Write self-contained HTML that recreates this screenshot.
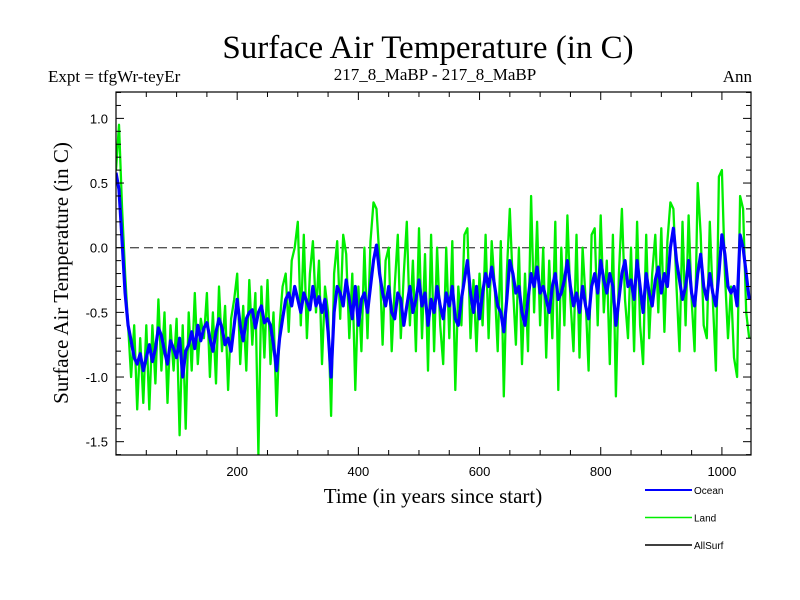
<!DOCTYPE html>
<html><head><meta charset="utf-8"><style>
body{margin:0;background:#fff;}
svg{display:block;}
.serif{font-family:"Liberation Serif",serif;}
.sans{font-family:"Liberation Sans",sans-serif;}
</style></head><body>
<svg id="chart" width="800" height="600" xmlns="http://www.w3.org/2000/svg">
<rect width="800" height="600" fill="#fff"/>
<text class="serif" x="428" y="58" font-size="33" text-anchor="middle">Surface Air Temperature (in C)</text>
<text class="serif" x="48" y="82" font-size="17">Expt = tfgWr-teyEr</text>
<text class="serif" x="435" y="80" font-size="17" text-anchor="middle">217_8_MaBP - 217_8_MaBP</text>
<text class="serif" x="752" y="82" font-size="17" text-anchor="end">Ann</text>
<text class="serif" x="0" y="0" font-size="21" text-anchor="middle" transform="translate(68,273) rotate(-90)">Surface Air Temperature (in C)</text>
<text class="serif" x="433" y="503" font-size="21" text-anchor="middle">Time (in years since start)</text>
<g id="plot"></g>
<g id="legend"></g>
</svg>
<script>
const years0 = 0, yearStep = 5;
const ocean = [0.58,0.45,0.05,-0.35,-0.6,-0.72,-0.85,-0.9,-0.82,-0.95,
-0.85,-0.75,-0.88,-0.78,-0.62,-0.68,-0.8,-0.9,-0.72,-0.78,
-0.85,-0.7,-1.0,-0.8,-0.75,-0.65,-0.78,-0.6,-0.72,-0.62,
-0.58,-0.7,-0.8,-0.65,-0.55,-0.62,-0.75,-0.7,-0.8,-0.6,
-0.4,-0.6,-0.72,-0.55,-0.5,-0.48,-0.62,-0.5,-0.45,-0.58,
-0.55,-0.6,-0.75,-0.95,-0.7,-0.55,-0.4,-0.35,-0.45,-0.3,
-0.4,-0.5,-0.35,-0.42,-0.48,-0.3,-0.45,-0.38,-0.5,-0.4,
-0.65,-1.0,-0.5,-0.3,-0.35,-0.45,-0.25,-0.4,-0.55,-0.3,
-0.6,-0.4,-0.35,-0.5,-0.3,-0.1,0.02,-0.2,-0.35,-0.45,
-0.3,-0.5,-0.55,-0.35,-0.4,-0.6,-0.45,-0.3,-0.5,-0.4,
-0.25,-0.45,-0.35,-0.6,-0.4,-0.5,-0.3,-0.45,-0.55,-0.35,
-0.45,-0.3,-0.55,-0.6,-0.4,-0.25,-0.1,-0.35,-0.5,-0.3,
-0.55,-0.35,-0.2,-0.3,-0.15,-0.3,-0.45,-0.5,-0.65,-0.4,
-0.1,-0.2,-0.35,-0.3,-0.5,-0.6,-0.4,-0.2,-0.3,-0.15,
-0.35,-0.3,-0.4,-0.5,-0.3,-0.2,-0.4,-0.35,-0.25,-0.1,
-0.3,-0.45,-0.35,-0.5,-0.3,-0.45,-0.55,-0.3,-0.2,-0.35,
-0.1,-0.25,-0.35,-0.2,-0.3,-0.6,-0.4,-0.2,-0.1,-0.3,
-0.25,-0.4,-0.1,-0.3,-0.5,-0.2,-0.35,-0.45,-0.25,-0.15,
-0.35,-0.2,-0.3,0.0,0.15,-0.1,-0.25,-0.4,-0.3,-0.1,
-0.35,-0.45,-0.2,-0.05,-0.3,-0.4,-0.2,-0.35,-0.45,-0.2,
0.1,-0.05,-0.3,-0.35,-0.3,-0.45,0.1,0.0,-0.2,-0.4];
const land = [0.6,0.95,0.3,-0.2,-0.6,-1.0,-0.6,-1.25,-0.7,-1.2,
-0.6,-1.25,-0.6,-1.05,-0.4,-0.95,-0.5,-1.2,-0.6,-0.95,
-0.55,-1.45,-0.6,-1.4,-0.5,-0.95,-0.35,-0.9,-0.55,-0.7,
-0.35,-1.0,-0.5,-1.05,-0.3,-0.8,-0.45,-1.1,-0.55,-0.4,
-0.2,-0.9,-0.45,-0.95,-0.25,-0.75,-0.35,-1.6,-0.3,-0.85,
-0.25,-0.9,-0.5,-1.3,-0.6,-0.3,-0.2,-0.65,-0.1,0.0,
0.2,-0.6,0.1,-0.7,-0.2,0.05,-0.5,-0.1,-0.9,-0.3,
-0.5,-1.3,-0.2,0.05,-0.55,0.1,-0.05,-0.7,-0.2,-1.1,
-0.3,-0.8,0.0,-0.7,0.05,0.35,0.3,-0.1,-0.75,-0.1,
0.0,-0.8,-0.3,0.1,-0.7,-0.2,0.2,-0.6,-0.1,-0.8,
0.15,-0.7,-0.05,-0.95,0.1,-0.8,0.0,-0.6,-0.9,0.0,
-0.7,0.05,-1.1,-0.3,-0.6,0.1,0.15,-0.7,-0.25,-0.8,
-0.2,-0.6,0.1,-0.7,0.05,-0.3,-0.8,0.05,-1.15,-0.2,
0.3,-0.3,-0.75,0.0,-0.9,-0.2,-0.8,0.4,-0.5,0.2,
-0.6,0.0,-0.85,-0.1,-0.7,0.2,-1.1,0.0,-0.6,0.25,
-0.4,-0.8,0.1,-0.85,0.0,-0.4,-0.95,0.1,0.15,-0.6,
0.25,-0.5,-0.1,-0.9,0.1,-1.15,-0.2,0.3,-0.4,-0.7,
0.0,-0.8,0.2,-0.6,-0.9,0.1,-0.7,-0.2,0.1,-0.5,
0.15,-0.65,0.05,0.35,0.3,-0.3,-0.8,0.2,-0.6,0.25,
-0.4,-0.8,0.5,0.1,-0.6,-0.7,0.2,-0.4,-0.95,0.55,
0.6,-0.2,-0.7,-0.3,-0.85,-1.0,0.4,0.3,-0.5,-0.7];
const xTickLabels = [200,400,600,800,1000];
const yTickLabels = [1.0,0.5,0.0,-0.5,-1.0,-1.5];
const legendNames = ["Ocean","Land","AllSurf"];
const legendColors = ["#0000ff","#00ee00","#000000"];

const L=116,R=751,T=92,B=455,XMIN=0,XMAX=1048,YMIN=-1.603,YMAX=1.204;
const xs=v=>L+(v-XMIN)/(XMAX-XMIN)*(R-L);
const ys=v=>B-(v-YMIN)/(YMAX-YMIN)*(B-T);
const NS="http://www.w3.org/2000/svg";
const plot=document.getElementById('plot');
function mk(tag,attrs,parent){const e=document.createElementNS(NS,tag);for(const k in attrs)e.setAttribute(k,attrs[k]);(parent||plot).appendChild(e);return e;}

const defs=mk('defs',{});
const cp=mk('clipPath',{id:'clip'},defs);mk('rect',{x:L,y:T,width:R-L,height:B-T},cp);

const zl=mk('line',{x1:L,x2:R,y1:ys(0),y2:ys(0),stroke:'#555','stroke-width':1.3,'stroke-dasharray':'9,5'});



function series(arr,color,w,name){
  const d=arr.map((v,i)=>(i?'L':'M')+xs(years0+i*yearStep).toFixed(1)+','+ys(v).toFixed(1)).join('');
  const p=mk('path',{d:d,fill:'none',stroke:color,'stroke-width':w,'clip-path':'url(#clip)','stroke-linejoin':'round'});
  
  
}
series(land,'#00ee00',2.3,'land-series');
series(ocean,'#000000',1,'allsurf-series');
series(ocean,'#0000ff',3.2,'ocean-series');

const fr=mk('rect',{x:L,y:T,width:R-L,height:B-T,fill:'none',stroke:'#000','stroke-width':1.2});



for(let yr=50;yr<XMAX;yr+=50){
  const big=yr%200===0,len=big?8:5,x=xs(yr);
  mk('line',{x1:x,x2:x,y1:B,y2:B-len,stroke:'#000'});
  mk('line',{x1:x,x2:x,y1:T,y2:T+len,stroke:'#000'});
}
for(let k=-16;k<=12;k++){
  const v=k/10,y=ys(v),big=k%5===0,len=big?8:5;
  mk('line',{x1:L,x2:L+len,y1:y,y2:y,stroke:'#000'});
  mk('line',{x1:R,x2:R-len,y1:y,y2:y,stroke:'#000'});
}
xTickLabels.forEach(v=>{
  const t=mk('text',{x:xs(v),y:B+21,'font-size':13,'text-anchor':'middle','font-family':'Liberation Sans, sans-serif'});
  t.textContent=v;
  
  
});
yTickLabels.forEach(v=>{
  const t=mk('text',{x:L-8,y:ys(v)+5,'font-size':13,'text-anchor':'end','font-family':'Liberation Sans, sans-serif'});
  t.textContent=v.toFixed(1);
  
  
});
const lg=document.getElementById('legend');
legendNames.forEach((n,i)=>{
  const y=490+i*27.5;
  const ln=mk('line',{x1:645,x2:692,y1:y,y2:y,stroke:legendColors[i],'stroke-width':i===0?2:1.6},lg);
  
  
  const t=mk('text',{x:694,y:y+4,'font-size':10,'font-family':'Liberation Sans, sans-serif'},lg);
  t.textContent=n;
  
  
});
</script>
</body></html>
